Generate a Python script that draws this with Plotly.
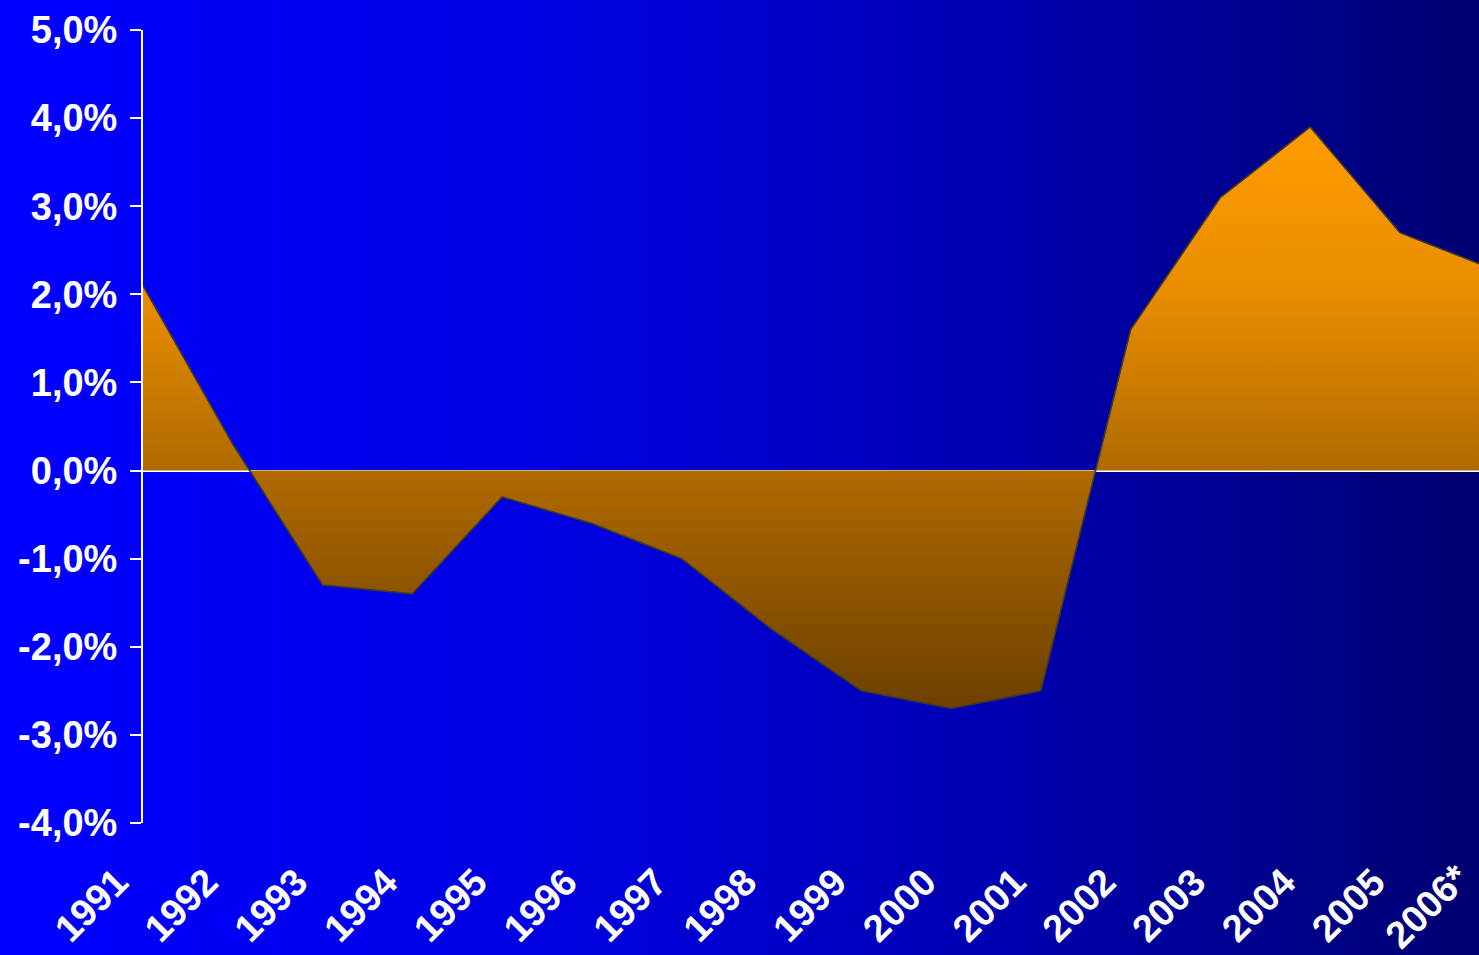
import base64
import plotly.graph_objects as go

# ---- data ----
years = ["1991", "1992", "1993", "1994", "1995", "1996", "1997", "1998",
         "1999", "2000", "2001", "2002", "2003", "2004", "2005", "2006*"]
values = [2.1, 0.3, -1.3, -1.4, -0.3, -0.6, -1.0, -1.8,
          -2.5, -2.7, -2.5, 1.6, 3.1, 3.9, 2.7, 2.3]
y_ticks = [-4, -3, -2, -1, 0, 1, 2, 3, 4, 5]
y_tick_labels = ["-4,0%", "-3,0%", "-2,0%", "-1,0%", "0,0%",
                 "1,0%", "2,0%", "3,0%", "4,0%", "5,0%"]

W, H = 1479, 955
ML, MR, MT, MB = 143, 0, 30, 132
plot_w = W - ML - MR
plot_h = H - MT - MB

x_idx = list(range(len(years)))

# background gradient (horizontal, bright blue -> navy)
svg = (
    '<svg xmlns="http://www.w3.org/2000/svg" width="1479" height="955" preserveAspectRatio="none">'
    '<defs><linearGradient id="g" x1="0" y1="0" x2="1" y2="0">'
    '<stop offset="0" stop-color="#0000FF"/>'
    '<stop offset="0.12" stop-color="#0000F8"/>'
    '<stop offset="0.41" stop-color="#0000DC"/>'
    '<stop offset="0.68" stop-color="#0000B0"/>'
    '<stop offset="1" stop-color="#000070"/>'
    '</linearGradient></defs>'
    '<rect x="0" y="0" width="1479" height="955" fill="url(#g)"/></svg>'
)
bg_src = "data:image/svg+xml;base64," + base64.b64encode(svg.encode()).decode()

font = dict(family="Liberation Sans, Arial, sans-serif", size=38, color="white", weight="bold")

fig = go.Figure()
fig.add_trace(go.Scatter(
    x=x_idx, y=values, mode="lines",
    line=dict(color="#3a3a2c", width=1.6),
    fill="tozeroy",
    fillgradient=dict(type="vertical",
                      colorscale=[[0, "#6C4000"], [0.26, "#985A00"], [0.41, "#B06A00"],
                                  [0.71, "#E88D00"], [1, "#FF9C00"]],
                      start=min(values), stop=max(values)),
    hoverinfo="skip", showlegend=False,
))

# last category label (its tick lies just past the right edge of the plot)
fig.add_annotation(
    x=1, y=0, xref="paper", yref="paper", text=years[-1],
    textangle=-45, showarrow=False, font=font, borderpad=0,
    xanchor="right", yanchor="top", xshift=0, yshift=-31,
)

fig.update_layout(
    width=W, height=H,
    margin=dict(l=ML, r=MR, t=MT, b=MB, pad=0),
    paper_bgcolor="#0000c0",
    plot_bgcolor="rgba(0,0,0,0)",
    images=[dict(source=bg_src, xref="paper", yref="paper",
                 x=-ML / plot_w, y=1 + MT / plot_h,
                 sizex=W / plot_w, sizey=H / plot_h,
                 sizing="stretch", layer="below", xanchor="left", yanchor="top")],
    showlegend=False,
)
fig.update_xaxes(
    range=[0, 14.88], tickvals=x_idx[:-1], ticktext=years[:-1],
    tickangle=-45, tickfont=font, showgrid=False, zeroline=False,
    showline=False, ticks="", ticklabelstandoff=28, ticklabelshift=-26,
    fixedrange=True,
)
fig.update_yaxes(
    range=[-4, 5], tickvals=y_ticks, ticktext=y_tick_labels,
    tickfont=font, showgrid=False,
    zeroline=True, zerolinecolor="white", zerolinewidth=2,
    showline=True, linecolor="white", linewidth=2,
    ticks="outside", ticklen=11, tickwidth=2, tickcolor="white",
    ticklabelstandoff=5, fixedrange=True,
)

fig.write_html("out.html", config={"displayModeBar": False},
               post_script="document.body.style.margin='0';document.body.style.overflow='hidden';")
